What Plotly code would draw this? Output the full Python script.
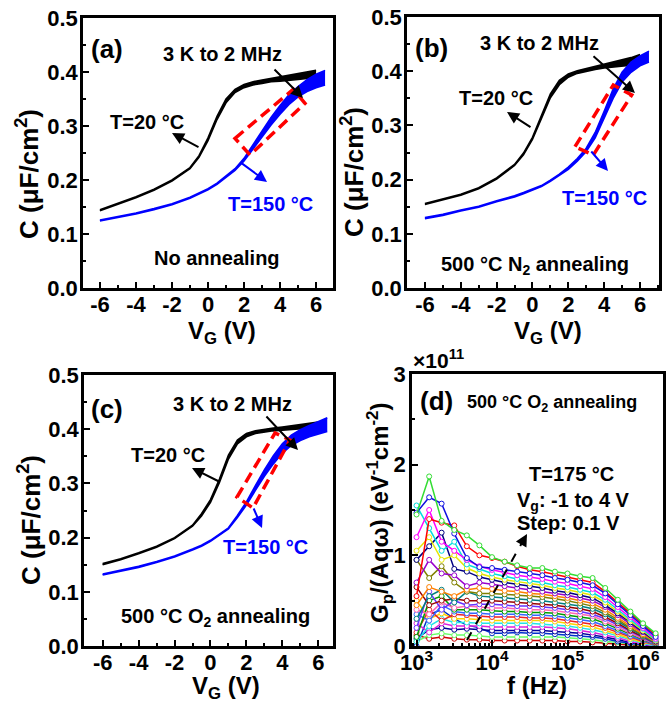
import plotly.graph_objects as go

W, H = 667, 703
FONT = "Liberation Sans, Arial, sans-serif"

# ---------------- C-V data (C in uF/cm^2) ----------------
v_black = [-6, -5, -4, -3, -2, -1, -0.5, 0, 0.5, 1, 1.5, 2, 2.5, 3, 3.5, 4, 4.5, 5, 5.5, 6]
v_blue = [-6, -5, -4, -3, -2, -1, -0.5, 0, 0.5, 1, 1.5, 2, 2.5, 3, 3.5, 4, 4.5, 5, 5.5, 6, 6.5]
vg_ticks = [-6, -4, -2, 0, 2, 4, 6]
vg_ticktext = ["-6", "-4", "-2", "0", "2", "4", "6"]

# (a) No annealing: lowest / highest frequency envelopes of the 3 kHz - 2 MHz family
a_black_lo = [0.143, 0.155, 0.167, 0.181, 0.198, 0.221, 0.242, 0.273, 0.312, 0.343, 0.362, 0.371, 0.376, 0.379, 0.382, 0.383, 0.384, 0.386, 0.388, 0.389]
a_black_hi = [0.145, 0.157, 0.169, 0.183, 0.200, 0.223, 0.245, 0.278, 0.318, 0.350, 0.368, 0.377, 0.382, 0.385, 0.388, 0.390, 0.393, 0.396, 0.399, 0.403]
a_blue_lo = [0.124, 0.130, 0.137, 0.145, 0.154, 0.166, 0.174, 0.182, 0.192, 0.205, 0.218, 0.235, 0.258, 0.280, 0.302, 0.322, 0.340, 0.354, 0.364, 0.371, 0.376]
a_blue_hi = [0.126, 0.132, 0.139, 0.147, 0.156, 0.168, 0.176, 0.184, 0.194, 0.207, 0.221, 0.240, 0.266, 0.292, 0.316, 0.338, 0.358, 0.373, 0.386, 0.396, 0.403]

# (b) 500 C N2 annealing
b_black_lo = [0.154, 0.162, 0.171, 0.183, 0.201, 0.226, 0.246, 0.274, 0.312, 0.351, 0.375, 0.389, 0.396, 0.400, 0.403, 0.406, 0.408, 0.409, 0.411, 0.412]
b_black_hi = [0.156, 0.164, 0.173, 0.185, 0.203, 0.228, 0.249, 0.278, 0.318, 0.358, 0.383, 0.395, 0.401, 0.405, 0.408, 0.412, 0.416, 0.420, 0.425, 0.431]
b_blue_lo = [0.128, 0.134, 0.142, 0.149, 0.159, 0.168, 0.174, 0.180, 0.187, 0.197, 0.208, 0.219, 0.234, 0.252, 0.277, 0.312, 0.350, 0.380, 0.398, 0.410, 0.417]
b_blue_hi = [0.130, 0.136, 0.144, 0.151, 0.161, 0.170, 0.176, 0.182, 0.189, 0.199, 0.210, 0.223, 0.239, 0.258, 0.287, 0.326, 0.367, 0.398, 0.417, 0.428, 0.437]

# (c) 500 C O2 annealing
c_black_lo = [0.150, 0.159, 0.170, 0.182, 0.198, 0.221, 0.240, 0.265, 0.302, 0.345, 0.373, 0.386, 0.392, 0.395, 0.397, 0.398, 0.399, 0.400, 0.401, 0.403]
c_black_hi = [0.152, 0.161, 0.172, 0.184, 0.200, 0.223, 0.244, 0.270, 0.308, 0.352, 0.380, 0.392, 0.397, 0.400, 0.402, 0.404, 0.406, 0.408, 0.410, 0.413]
c_blue_lo = [0.131, 0.138, 0.145, 0.154, 0.164, 0.177, 0.184, 0.193, 0.204, 0.216, 0.237, 0.260, 0.287, 0.313, 0.336, 0.356, 0.370, 0.379, 0.386, 0.391, 0.396]
c_blue_hi = [0.133, 0.140, 0.147, 0.156, 0.166, 0.179, 0.186, 0.195, 0.206, 0.218, 0.241, 0.266, 0.296, 0.325, 0.351, 0.373, 0.389, 0.399, 0.407, 0.414, 0.421]

# ---------------- (d) Gp/(Aq w) vs f, units of 1e11 eV^-1 cm^-2 ----------------
freq_hz = [1000, 1470, 2150, 3160, 4640, 6810, 10000, 14700, 21500, 31600,
           46400, 68100, 100000, 147000, 215000, 316000, 464000, 681000, 1000000, 1470000]

gp_curves = [
    [1.45, 1.87, 1.38, 1.28, 1.22, 1.11, 0.98, 0.93, 0.89, 0.86, 0.86, 0.82, 0.80, 0.77, 0.75, 0.64, 0.51, 0.38, 0.25, 0.14],
    [1.47, 1.64, 1.57, 1.24, 0.97, 0.87, 0.86, 0.84, 0.82, 0.80, 0.78, 0.75, 0.73, 0.70, 0.67, 0.58, 0.46, 0.34, 0.22, 0.10],
    [0.55, 1.40, 1.36, 1.33, 1.10, 1.00, 0.97, 0.93, 0.88, 0.84, 0.82, 0.79, 0.76, 0.73, 0.70, 0.60, 0.48, 0.36, 0.24, 0.12],
    [1.20, 1.50, 1.15, 1.05, 0.95, 0.88, 0.84, 0.81, 0.78, 0.76, 0.74, 0.71, 0.69, 0.66, 0.63, 0.54, 0.43, 0.32, 0.20, 0.08],
    [1.55, 1.30, 1.05, 1.15, 0.90, 0.85, 0.80, 0.77, 0.74, 0.72, 0.70, 0.67, 0.65, 0.62, 0.59, 0.51, 0.40, 0.30, 0.19, 0.07],
    [1.05, 1.20, 0.95, 1.00, 0.86, 0.80, 0.76, 0.73, 0.71, 0.69, 0.67, 0.64, 0.62, 0.59, 0.56, 0.48, 0.38, 0.28, 0.17, 0.06],
    [0.95, 1.10, 1.25, 0.85, 0.82, 0.76, 0.73, 0.70, 0.68, 0.66, 0.64, 0.61, 0.59, 0.56, 0.53, 0.45, 0.36, 0.26, 0.16, 0.05],
    [0.70, 0.95, 0.80, 0.78, 0.66, 0.70, 0.68, 0.66, 0.64, 0.62, 0.60, 0.58, 0.56, 0.53, 0.50, 0.43, 0.34, 0.24, 0.15, 0.05],
    [0.45, 0.65, 0.60, 0.55, 0.62, 0.64, 0.63, 0.61, 0.60, 0.58, 0.57, 0.55, 0.53, 0.50, 0.47, 0.40, 0.31, 0.22, 0.13, 0.04],
    [0.95, 0.75, 0.88, 0.70, 0.60, 0.58, 0.58, 0.57, 0.56, 0.55, 0.54, 0.52, 0.50, 0.47, 0.44, 0.37, 0.29, 0.20, 0.12, 0.04],
    [0.30, 0.55, 0.62, 0.48, 0.60, 0.55, 0.54, 0.53, 0.52, 0.51, 0.50, 0.48, 0.46, 0.44, 0.41, 0.35, 0.27, 0.19, 0.11, 0.03],
    [0.65, 0.45, 0.50, 0.52, 0.50, 0.50, 0.50, 0.49, 0.48, 0.47, 0.46, 0.45, 0.43, 0.41, 0.38, 0.32, 0.25, 0.17, 0.10, 0.03],
    [0.20, 0.60, 0.40, 0.50, 0.45, 0.46, 0.46, 0.45, 0.44, 0.44, 0.43, 0.42, 0.40, 0.38, 0.35, 0.30, 0.23, 0.16, 0.09, 0.02],
    [0.40, 0.35, 0.48, 0.42, 0.44, 0.43, 0.42, 0.42, 0.41, 0.40, 0.40, 0.39, 0.37, 0.35, 0.33, 0.27, 0.21, 0.14, 0.08, 0.02],
    [0.10, 0.50, 0.55, 0.40, 0.40, 0.40, 0.39, 0.38, 0.38, 0.37, 0.37, 0.36, 0.34, 0.32, 0.30, 0.25, 0.19, 0.13, 0.07, 0.02],
    [0.35, 0.28, 0.45, 0.38, 0.36, 0.36, 0.35, 0.35, 0.35, 0.34, 0.34, 0.33, 0.31, 0.29, 0.27, 0.22, 0.17, 0.11, 0.06, 0.01],
    [0.15, 0.40, 0.28, 0.35, 0.34, 0.33, 0.32, 0.32, 0.32, 0.31, 0.31, 0.30, 0.28, 0.26, 0.24, 0.20, 0.15, 0.10, 0.05, 0.01],
    [0.50, 0.30, 0.36, 0.30, 0.30, 0.29, 0.28, 0.28, 0.28, 0.28, 0.28, 0.27, 0.25, 0.23, 0.21, 0.17, 0.13, 0.08, 0.04, 0.01],
    [0.05, 0.22, 0.30, 0.26, 0.26, 0.25, 0.25, 0.25, 0.25, 0.25, 0.24, 0.23, 0.22, 0.20, 0.18, 0.15, 0.11, 0.07, 0.03, 0.00],
    [0.25, 0.15, 0.25, 0.22, 0.22, 0.22, 0.21, 0.21, 0.21, 0.21, 0.21, 0.20, 0.19, 0.17, 0.15, 0.12, 0.09, 0.05, 0.02, 0.00],
    [0.08, 0.18, 0.20, 0.18, 0.19, 0.18, 0.17, 0.17, 0.17, 0.17, 0.17, 0.16, 0.15, 0.14, 0.12, 0.10, 0.07, 0.04, 0.02, 0.00],
    [0.00, 0.35, 0.40, 0.30, 0.23, 0.20, 0.14, 0.14, 0.15, 0.14, 0.14, 0.13, 0.12, 0.11, 0.10, 0.08, 0.05, 0.03, 0.01, 0.00],
    [0.05, 0.12, 0.14, 0.12, 0.12, 0.11, 0.10, 0.10, 0.10, 0.10, 0.10, 0.10, 0.09, 0.08, 0.07, 0.05, 0.04, 0.02, 0.01, 0.00],
    [0.12, 0.08, 0.10, 0.08, 0.07, 0.07, 0.06, 0.06, 0.06, 0.06, 0.06, 0.06, 0.05, 0.05, 0.04, 0.03, 0.02, 0.01, 0.00, 0.00],
]
gp_colors = ["#33DD33", "#1010E0", "#FF0000", "#FF00FF", "#00DDDD", "#E6E600", "#000080", "#9900CC",
             "#FF8000", "#808000", "#008080", "#990000", "#6633FF", "#FF66B2", "#009900", "#3366FF",
             "#EE2222", "#FFD000", "#22E5E5", "#DD22DD", "#000099", "#0033CC", "#66FF66", "#CC0000"]
f_ticks = [1e3, 1e4, 1e5, 1e6]
f_ticktext = ["10<sup>3</sup>", "10<sup>4</sup>", "10<sup>5</sup>", "10<sup>6</sup>"]

C_BLACK = "#000000"
C_BLUE = "#0000FF"

fig = go.Figure()


def band(xa, ya, v, lo, hi, color):
    fig.add_trace(go.Scatter(x=v, y=lo, mode="lines", line=dict(color=color, width=1.6),
                             xaxis=xa, yaxis=ya, showlegend=False, hoverinfo="skip"))
    fig.add_trace(go.Scatter(x=v, y=hi, mode="lines", line=dict(color=color, width=1.6),
                             fill="tonexty", fillcolor=color,
                             xaxis=xa, yaxis=ya, showlegend=False, hoverinfo="skip"))


band("x", "y", v_black, a_black_lo, a_black_hi, C_BLACK)
band("x", "y", v_blue, a_blue_lo, a_blue_hi, C_BLUE)
band("x2", "y2", v_black, b_black_lo, b_black_hi, C_BLACK)
band("x2", "y2", v_blue, b_blue_lo, b_blue_hi, C_BLUE)
band("x3", "y3", v_black, c_black_lo, c_black_hi, C_BLACK)
band("x3", "y3", v_blue, c_blue_lo, c_blue_hi, C_BLUE)

for vals, col in reversed(list(zip(gp_curves, gp_colors))):
    fig.add_trace(go.Scatter(x=freq_hz, y=vals, mode="lines+markers",
                             line=dict(color=col, width=1.5),
                             marker=dict(symbol="circle", size=5, color="white",
                                         line=dict(color=col, width=1)),
                             xaxis="x4", yaxis="y4", showlegend=False, hoverinfo="skip"))


def dom(p0, p1, total):
    return [p0 / total, p1 / total]


def ydom(top, bottom):
    return [1 - bottom / H, 1 - top / H]


axis_common = dict(showline=True, linewidth=2.5, linecolor="black", mirror=True,
                   ticks="inside", ticklen=6, tickwidth=2, tickcolor="black",
                   showgrid=False, zeroline=False, automargin=False,
                   tickfont=dict(size=22, family=FONT, color="black", weight="bold"))


def cv_axes(xd, yd, xr):
    xa = dict(axis_common, domain=xd, range=xr, tickmode="array", tickvals=vg_ticks,
              ticktext=vg_ticktext, ticklabelstandoff=-5,
              minor=dict(ticks="inside", ticklen=3, tickwidth=2, dtick=1, tick0=-7))
    ya = dict(axis_common, domain=yd, range=[0, 0.5], tickmode="linear", tick0=0, dtick=0.1,
              tickformat=".1f", ticklabelstandoff=-2,
              minor=dict(ticks="inside", ticklen=3, tickwidth=2, dtick=0.05))
    return xa, ya


xa1, ya1 = cv_axes(dom(83, 333, W), ydom(18, 288), [-6.94, 6.94])
xa2, ya2 = cv_axes(dom(407, 659, W), ydom(17, 288), [-7.0, 7.06])
xa3, ya3 = cv_axes(dom(84, 333, W), ydom(375, 646), [-7.04, 6.82])
ya1["anchor"] = "x"; xa1["anchor"] = "y"
ya2["anchor"] = "x2"; xa2["anchor"] = "y2"
ya3["anchor"] = "x3"; xa3["anchor"] = "y3"

xa4 = dict(axis_common, domain=dom(412, 663, W), type="log", range=[2.94, 6.265], anchor="y4",
           tickvals=f_ticks, ticktext=f_ticktext, ticklabelstandoff=-5,
           minor=dict(ticks="inside", ticklen=3, tickwidth=1.5, dtick="D1"))
ya4 = dict(axis_common, domain=ydom(374, 646), range=[0, 3], anchor="x4",
           tickvals=[0, 1, 2, 3], ticktext=["0", "1", "2", "3"], ticklabelstandoff=-1,
           minor=dict(ticks="inside", ticklen=3, tickwidth=2, dtick=0.5))

fig.update_layout(
    width=W, height=H, margin=dict(l=0, r=0, t=0, b=0, autoexpand=False),
    paper_bgcolor="white", plot_bgcolor="white",
    font=dict(family=FONT, color="black"),
    xaxis=xa1, yaxis=ya1, xaxis2=xa2, yaxis2=ya2,
    xaxis3=xa3, yaxis3=ya3, xaxis4=xa4, yaxis4=ya4,
)


def P(px, py):
    return px / W, 1 - py / H


def label(px, py, text, size=20, color="black", angle=0):
    x, y = P(px, py)
    fig.add_annotation(x=x, y=y, xref="paper", yref="paper", text=text, showarrow=False,
                       xanchor="center", yanchor="middle", textangle=angle,
                       font=dict(size=size, color=color, family=FONT, weight="bold"))


def arrow(hx, hy, tx, ty, color="black"):
    x, y = P(hx, hy)
    fig.add_annotation(x=x, y=y, xref="paper", yref="paper", ax=tx - hx, ay=ty - hy,
                       text="", showarrow=True, arrowhead=2, arrowsize=1.2,
                       arrowwidth=2, arrowcolor=color)


def red_box(pts):
    path = "M " + " L ".join(f"{px / W:.5f},{1 - py / H:.5f}" for px, py in pts) + " Z"
    fig.add_shape(type="path", path=path, xref="paper", yref="paper",
                  line=dict(color="#FF0000", width=3.5, dash="11px,6px"))


VG_TITLE = "V<sub>G</sub> (V)"
C_TITLE = "C (μF/cm<sup>2</sup>)"

# axis titles
label(222, 332, VG_TITLE, 24)
label(548, 332, VG_TITLE, 24)
label(226, 687, VG_TITLE, 24)
label(537, 685, "f (Hz)", 24)
label(27, 174, C_TITLE, 26, angle=-90)
label(352, 172, C_TITLE, 26, angle=-90)
label(29, 520, C_TITLE, 26, angle=-90)
label(380, 513, "G<sub>p</sub>/(Aqω) (eV<sup>-1</sup>cm<sup>-2</sup>)", 24, angle=-90)

# (a)
label(107, 49, "(a)", 26)
label(222, 54, "3 K to 2 MHz")
label(147, 122, "T=20 °C")
label(270, 204, "T=150 °C", color=C_BLUE)
label(217, 258, "No annealing")
arrow(172, 133, 200, 148)
arrow(303, 98, 273, 68)
arrow(267, 182, 240, 162, C_BLUE)
red_box([(235, 138.3), (293.3, 89.3), (305, 103.3), (250, 155)])

# (b)
label(432, 48, "(b)", 26)
label(539, 43, "3 K to 2 MHz")
label(496, 98, "T=20 °C")
label(604, 198, "T=150 °C", color=C_BLUE)
label(535, 265, "500 °C N<sub>2</sub> annealing")
arrow(507, 112, 532, 128)
arrow(635, 93, 592, 55)
arrow(608, 171, 590, 150, C_BLUE)
red_box([(575, 146.7), (613.3, 85), (631.7, 95), (593.3, 155)])

# (c)
label(107, 409, "(c)", 26)
label(233, 404, "3 K to 2 MHz")
label(168, 455, "T=20 °C")
label(265, 547, "T=150 °C", color=C_BLUE)
label(216, 617, "500 °C O<sub>2</sub> annealing")
arrow(192, 468, 220, 482)
arrow(298, 450, 265, 415)
arrow(262, 528, 253, 507, C_BLUE)
red_box([(237, 497), (275, 433), (290, 440), (253, 508)])

# (d)
label(436, 401, "(d)", 26)
label(552, 404, "500 °C O<sub>2</sub> annealing", 18)
label(571, 474, "T=175 °C")
label(573, 501, "V<sub>g</sub>: -1 to 4 V")
label(568, 523, "Step: 0.1 V")
label(438, 359, "×10<sup>11</sup>", 21)
x0, y0 = P(467, 640)
x1, y1 = P(523, 541)
fig.add_shape(type="line", x0=x0, y0=y0, x1=x1, y1=y1, xref="paper", yref="paper",
              line=dict(color="black", width=2, dash="dash"))
arrow(527, 534, 522, 543)

fig.write_html("out.html", config={"displayModeBar": False},
               post_script="document.body.style.margin='0';document.body.style.overflow='hidden';")
